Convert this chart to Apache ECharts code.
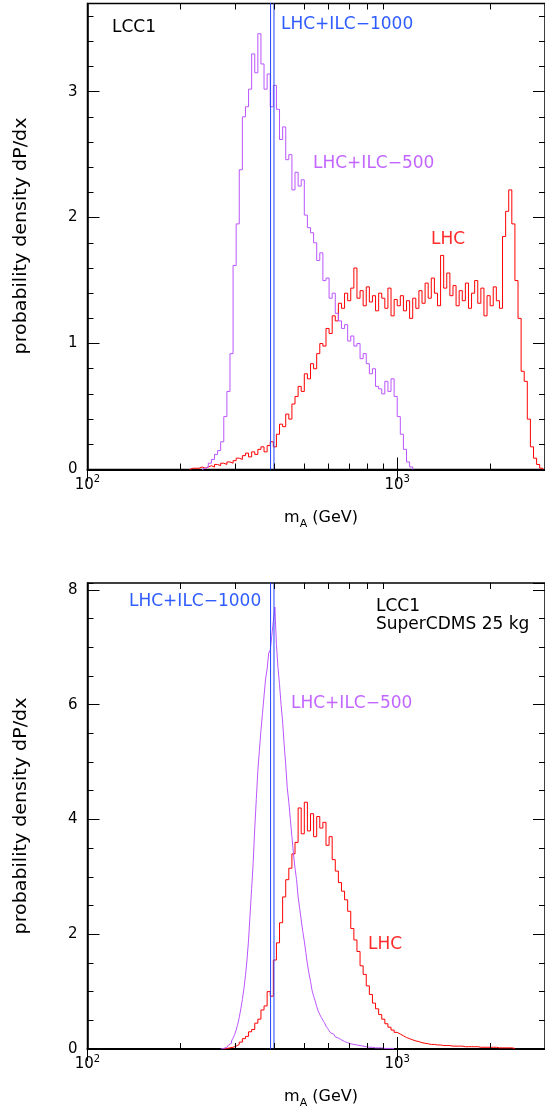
<!DOCTYPE html>
<html><head><meta charset="utf-8">
<script src="https://cdn.jsdelivr.net/npm/echarts@6/dist/echarts.min.js"></script>
<style>html,body{margin:0;padding:0;background:#fff}#c{width:545px;height:1111px}</style>
</head><body><div id="c"></div>
<script>
// ---------- data (histograms on a log10(mA) grid) ----------
// top panel (LCC1), bin width 0.01 decade
const topPurpleStart = 2.37; // LHC+ILC-500
const topPurpleBin = 0.01;
const topPurple = [0.01,0.02,0.05,0.08,0.12,0.15,0.22,0.42,0.62,0.92,
  1.62,1.95,2.38,2.80,2.88,3.02,3.30,3.15,3.46,3.22,
  3.02,3.14,2.88,3.05,2.86,2.62,2.72,2.46,2.50,2.22,
  2.36,2.25,2.30,
  2.02,1.92,1.88,1.80,1.66,1.72,1.50,1.52,1.36,1.40,1.24,1.18,1.12,1.15,1.02,
  1.06,0.98,1.00,0.88,0.92,0.84,0.76,0.80,0.66,0.64,0.60,0.70,0.62,0.72,0.58,
  0.42,0.28,0.16,0.06,0.02];
const topRedStart = 2.33; // LHC
const topRedBin = 0.01;
const topRed = [0.01,0.01,0.01,0.02,0.01,0.02,0.03,0.02,0.04,0.03,
  0.05,0.04,0.06,0.05,0.07,0.09,0.08,0.11,0.13,0.10,
  0.14,0.12,0.16,0.18,0.14,0.19,0.22,
  0.18,0.28,0.36,0.34,0.44,0.40,0.52,0.58,0.66,0.62,
  0.76,0.72,0.84,0.80,0.92,1.00,0.98,1.12,1.08,1.22,
  1.18,1.32,1.28,1.40,1.34,1.44,1.60,
  1.36,1.42,1.30,1.45,1.33,1.38,1.26,1.40,1.36,1.28,
  1.44,1.22,1.35,1.30,1.38,1.26,1.34,1.20,1.36,1.28,
  1.42,1.32,1.48,1.36,1.52,1.40,1.30,1.70,1.44,1.56,
  1.38,1.46,1.30,1.42,1.34,1.48,1.28,1.40,1.50,1.32,
  1.44,1.22,1.38,1.30,1.45,1.34,1.28,
  1.85,2.05,2.22,1.95,1.50,1.20,0.78,0.70,0.40,0.18,0.09,0.04,0.01];

// bottom panel (LCC1, SuperCDMS 25 kg)
const bottomPurpleStart = 2.43; // LHC+ILC-500
const bottomPurpleBin = 0.005;
const bottomPurple = [0.01,0.01,0.02,0.03,0.05,0.07,0.10,0.14,0.19,0.25,
  0.33,0.43,0.55,0.70,0.86,1.05,1.28,1.55,1.90,2.35,
  2.80,3.25,3.85,4.35,4.85,5.20,5.55,5.85,6.15,6.45,
  6.62,6.90,6.95,7.20,7.45,7.70,7.05,6.65,6.35,6.00,
  5.70,5.30,4.95,4.55,4.30,4.00,3.70,3.40,3.15,2.95,
  2.65,2.45,2.25,2.05,1.88,1.68,1.48,1.32,1.18,1.02,
  0.92,0.84,0.74,0.66,0.60,0.55,0.50,0.46,0.40,0.36,
  0.32,0.28,0.26,0.24,0.21,0.19,0.18,0.16,0.15,0.13,
  0.12,0.11,0.10,0.09,0.08,0.08,0.07,0.07,0.06,0.06,
  0.05,0.05,0.04,0.04,0.04,0.03,0.03,0.03,0.03,0.02,
  0.02,0.02,0.02,0.02,0.01,0.01,0.01,0.01,0.01,0.01,0.01,0.01];
const bottomRedStart = 2.44; // LHC
const bottomRedBin = 0.01;
const bottomRed = [0.01,0.02,0.03,0.05,0.08,0.12,0.18,0.22,0.30,0.34,
  0.45,0.52,0.68,0.75,1.00,0.92,1.55,1.85,2.20,2.65,
  2.95,3.15,3.40,3.60,4.20,3.75,4.30,3.80,4.10,3.70,
  4.05,3.85,3.95,3.55,3.70,3.30,3.10,2.90,2.75,2.60,
  2.40,2.10,1.90,1.70,1.45,1.30,1.10,0.95,0.80,0.70,
  0.60,0.52,0.44,0.38,0.33,0.29,0.26,0.23,0.20,0.18,
  0.16,0.14,0.13,0.11,0.10,0.09,
  0.08,0.08,0.07,0.07,0.06,0.06,0.06,0.05,0.05,0.05,
  0.05,0.04,0.04,0.04,0.04,0.04,0.03,0.03,0.03,0.03,
  0.03,0.03,0.02,0.02,0.02,0.02,0.02,0.01];

// LHC+ILC-1000: very narrow, off-scale bin
const blueBin = [390, 400];
const blueHeight = 100;

// axes / ticks
const xRange = [100, 3000];
const xMinorTicks = [200,300,400,500,600,700,800,900,2000];
const topYRange = [0, 3.7];
const topYMajorStep = 1, topYMinorStep = 0.2;
const bottomYRange = [0, 8.12];
const bottomYMajorStep = 2, bottomYMinorStep = 0.5;

// ---------- layout / styles ----------
const GRID_H = 466;
const FONT = 'DejaVu Sans';
const C_PURPLE = '#bb55ff', C_RED = '#ff0000', C_BLUE = '#2244ff';
const T_PURPLE = '#c266ff', T_RED = '#ff2a2a', T_BLUE = '#2f5cff';
const MAJOR_LEN = 12, MINOR_LEN = 6;

function steps(start, w, vals) {
  const pts = [[Math.pow(10, start), 0]];
  vals.forEach((v, i) => {
    pts.push([Math.pow(10, start + i * w), v]);
    pts.push([Math.pow(10, start + (i + 1) * w), v]);
  });
  pts.push([Math.pow(10, start + vals.length * w), 0]);
  return pts;
}
function blueSteps() {
  return [[blueBin[0], 0], [blueBin[0], blueHeight], [blueBin[1], blueHeight], [blueBin[1], 0]];
}
function lineSeries(g, data, color, extra) {
  return Object.assign({type: 'line', xAxisIndex: 2 * g, yAxisIndex: 4 * g, data: data, showSymbol: false, symbol: 'none',
    lineStyle: {color: color, width: 1}, itemStyle: {color: color}, animation: false, clip: true, z: 2}, extra || {});
}
// minor x ticks (bottom and top, inward) as mark lines in data coordinates
function xMinorMarks(yRange) {
  const dy = MINOR_LEN * (yRange[1] - yRange[0]) / GRID_H;
  const data = [];
  xMinorTicks.forEach(v => {
    data.push([{coord: [v, yRange[0]]}, {coord: [v, yRange[0] + dy]}]);
    data.push([{coord: [v, yRange[1]]}, {coord: [v, yRange[1] - dy]}]);
  });
  return {markLine: {silent: true, symbol: ['none', 'none'], animation: false, precision: 6,
    label: {show: false}, emphasis: {disabled: true}, lineStyle: {color: '#000', width: 1, type: 'solid'}, data: data}};
}
const tickStyle = {color: '#000', width: 1};
function xAxis(g, pos) {
  const main = pos === 'bottom';
  return {type: 'log', logBase: 10, gridIndex: g, position: pos, min: xRange[0], max: xRange[1],
    axisLine: {show: main, lineStyle: {color: '#000', width: 2}},
    axisTick: {show: true, inside: true, length: MAJOR_LEN, lineStyle: tickStyle},
    minorTick: {show: false}, splitLine: {show: false}, minorSplitLine: {show: false},
    axisLabel: {show: main, margin: 5, showMaxLabel: false, color: '#000',
      formatter: v => { const e = Math.log10(v); return Math.abs(e - Math.round(e)) < 1e-6 ? '{b|10}{s|' + Math.round(e) + '}' : ''; },
      rich: {b: {fontFamily: FONT, fontSize: 15, color: '#000', lineHeight: 18, verticalAlign: 'bottom'},
             s: {fontFamily: FONT, fontSize: 10, color: '#000', lineHeight: 12, verticalAlign: 'top'}}}};
}
function yAxis(g, range, step, pos, len, labels) {
  return {type: 'value', gridIndex: g, position: pos, min: range[0], max: range[1], interval: step,
    axisLine: {show: labels, lineStyle: {color: '#000', width: 1.5}},
    axisTick: {show: true, inside: true, length: len, lineStyle: tickStyle},
    minorTick: {show: false}, splitLine: {show: false},
    axisLabel: {show: labels, margin: 10, showMaxLabel: false, color: '#000', fontFamily: FONT, fontSize: 15}};
}
function yAxesFor(g, range, major, minor) {
  return [yAxis(g, range, major, 'left', MAJOR_LEN, true), yAxis(g, range, minor, 'left', MINOR_LEN, false),
          yAxis(g, range, major, 'right', MAJOR_LEN, false), yAxis(g, range, minor, 'right', MINOR_LEN, false)];
}
function txt(x, y, text, color) {
  return {type: 'text', x: x, y: y, z: 10,
    style: {text: text, fill: color, fontFamily: FONT, fontSize: 17, align: 'left', verticalAlign: 'middle'}};
}
const mAxisTitle = (y) => ({type: 'text', x: 321, y: y, z: 10,
  style: {text: '{m|m}{a|A}{m| (GeV)}', align: 'center', verticalAlign: 'middle',
    rich: {m: {fontFamily: FONT, fontSize: 16, fill: '#000', color: '#000', lineHeight: 20, verticalAlign: 'top'},
           a: {fontFamily: FONT, fontSize: 11, fill: '#000', color: '#000', lineHeight: 12, verticalAlign: 'bottom'}}}});
const yTitle = (y) => ({type: 'text', x: 22, y: y, rotation: Math.PI / 2, scaleX: 1.12, z: 10,
  style: {text: 'probability density dP/dx', fill: '#000', fontFamily: FONT, fontSize: 17, align: 'center', verticalAlign: 'middle'}});

const option = {
  backgroundColor: '#fff',
  animation: false,
  grid: [
    {left: 87.5, top: 3.5, width: 458.5, height: GRID_H, show: true, borderColor: '#000', borderWidth: 1.5, backgroundColor: 'transparent', containLabel: false},
    {left: 87.5, top: 583, width: 458.5, height: GRID_H, show: true, borderColor: '#000', borderWidth: 1.5, backgroundColor: 'transparent', containLabel: false}
  ],
  xAxis: [xAxis(0, 'bottom'), xAxis(0, 'top'), xAxis(1, 'bottom'), xAxis(1, 'top')],
  yAxis: yAxesFor(0, topYRange, topYMajorStep, topYMinorStep).concat(yAxesFor(1, bottomYRange, bottomYMajorStep, bottomYMinorStep)),
  series: [
    lineSeries(0, steps(topRedStart, topRedBin, topRed), C_RED),
    lineSeries(0, steps(topPurpleStart, topPurpleBin, topPurple), C_PURPLE),
    lineSeries(0, blueSteps(), C_BLUE, xMinorMarks(topYRange)),
    lineSeries(1, steps(bottomRedStart, bottomRedBin, bottomRed), C_RED),
    lineSeries(1, steps(bottomPurpleStart, bottomPurpleBin, bottomPurple), C_PURPLE),
    lineSeries(1, blueSteps(), C_BLUE, xMinorMarks(bottomYRange))
  ],
  graphic: [
    txt(112, 28, 'LCC1', '#000'),
    txt(281, 25, 'LHC+ILC\u22121000', T_BLUE),
    txt(313, 164, 'LHC+ILC\u2212500', T_PURPLE),
    txt(431, 240, 'LHC', T_RED),
    mAxisTitle(520),
    yTitle(236),
    txt(129, 602, 'LHC+ILC\u22121000', T_BLUE),
    txt(376, 607, 'LCC1', '#000'),
    txt(376, 625, 'SuperCDMS 25 kg', '#000'),
    txt(291, 704, 'LHC+ILC\u2212500', T_PURPLE),
    txt(368, 945, 'LHC', T_RED),
    mAxisTitle(1099),
    yTitle(816)
  ]
};
const chart = echarts.init(document.getElementById('c'), null, {renderer: 'canvas'});
chart.setOption(option);
</script></body></html>
